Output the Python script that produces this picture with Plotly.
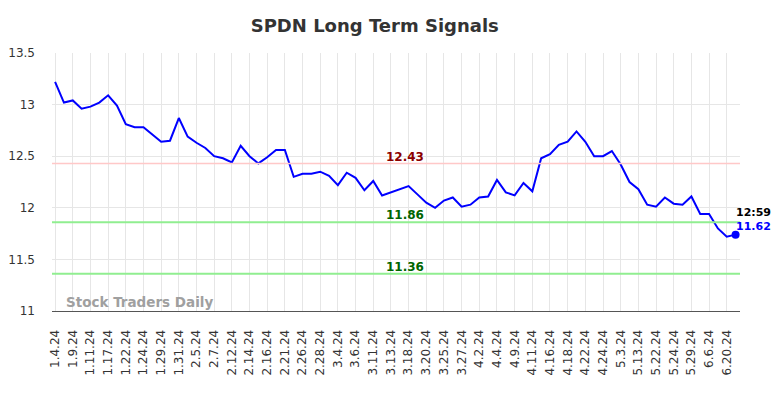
import plotly.graph_objects as go

tick_labels = ["1.4.24", "1.9.24", "1.11.24", "1.17.24", "1.22.24", "1.24.24", "1.29.24", "1.31.24",
               "2.5.24", "2.7.24", "2.12.24", "2.14.24", "2.16.24", "2.21.24", "2.26.24", "2.28.24",
               "3.4.24", "3.6.24", "3.11.24", "3.13.24", "3.18.24", "3.20.24", "3.25.24", "3.27.24",
               "4.2.24", "4.4.24", "4.9.24", "4.11.24", "4.16.24", "4.18.24", "4.22.24", "4.24.24",
               "5.3.24", "5.13.24", "5.22.24", "5.24.24", "5.29.24", "6.6.24", "6.20.24"]

prices = [13.22, 13.02, 13.04, 12.96, 12.98, 13.02, 13.09, 12.99, 12.81, 12.78,
          12.78, 12.71, 12.64, 12.65, 12.87, 12.69, 12.63, 12.58, 12.50, 12.48,
          12.44, 12.60, 12.50, 12.43, 12.49, 12.56, 12.56, 12.30, 12.33, 12.33,
          12.35, 12.31, 12.22, 12.34, 12.29, 12.17, 12.26, 12.12, 12.15, 12.18,
          12.21, 12.13, 12.05, 12.00, 12.07, 12.10, 12.01, 12.03, 12.10, 12.11,
          12.27, 12.15, 12.12, 12.24, 12.16, 12.48, 12.52, 12.61, 12.64, 12.74,
          12.64, 12.50, 12.50, 12.55, 12.42, 12.25, 12.18, 12.03, 12.01, 12.10,
          12.04, 12.03, 12.11, 11.94, 11.94, 11.80, 11.72, 11.74]

resistance = 12.43
supports = [11.86, 11.36]
last_time = "12:59"
last_price_label = "11.62"

x = list(range(len(prices)))
tickvals = list(range(0, 2 * len(tick_labels), 2))

fig = go.Figure()
fig.add_trace(go.Scatter(x=x, y=prices, mode="lines",
                         line=dict(color="#0000ff", width=2), hoverinfo="skip"))
fig.add_trace(go.Scatter(x=[x[-1]], y=[prices[-1]], mode="markers",
                         marker=dict(color="#0000ff", size=8), hoverinfo="skip"))

fig.add_hline(y=resistance, line=dict(color="#ffc8c8", width=1.5))
for s in supports:
    fig.add_hline(y=s, line=dict(color="#90ee90", width=2))

label_x = 39.6
fig.add_annotation(x=label_x, y=resistance, text=f"<b>{resistance:.2f}</b>", showarrow=False,
                   yanchor="bottom", yshift=-3, font=dict(color="#8b0000", size=12, family="DejaVu Sans"))
for s in supports:
    fig.add_annotation(x=label_x, y=s, text=f"<b>{s:.2f}</b>", showarrow=False,
                       yanchor="bottom", yshift=-2, font=dict(color="#006400", size=12, family="DejaVu Sans"))

fig.add_annotation(x=x[-1], y=prices[-1], text=f"<b>{last_time}</b>", showarrow=False,
                   xanchor="left", xshift=-2, yshift=22, font=dict(color="#000000", size=11, family="DejaVu Sans"))
fig.add_annotation(x=x[-1], y=prices[-1], text=f"<b>{last_price_label}</b>", showarrow=False,
                   xanchor="left", xshift=-2, yshift=8, font=dict(color="#0000ff", size=11, family="DejaVu Sans"))

fig.add_annotation(xref="paper", yref="paper", x=0.018, y=0.0, xanchor="left", yanchor="bottom",
                   yshift=-1, text="<b>Stock Traders Daily</b>", showarrow=False,
                   font=dict(color="#a0a0a0", size=13.5, family="DejaVu Sans"))

fig.update_layout(
    width=784, height=398,
    margin=dict(l=52, r=44, t=53, b=87, autoexpand=False),
    plot_bgcolor="white", paper_bgcolor="white",
    showlegend=False,
    title=dict(text="<b>SPDN Long Term Signals</b>", x=0.478, xref="container", xanchor="center",
               y=0.935, yref="container", yanchor="middle",
               font=dict(size=18, color="#333333", family="DejaVu Sans")),
    font=dict(family="DejaVu Sans", color="#333333"),
)
fig.update_xaxes(range=[-0.35, 77.5], tickmode="array", tickvals=tickvals, ticktext=tick_labels,
                 tickangle=-90, tickfont=dict(size=12, color="#333333"),
                 showgrid=True, gridcolor="#e6e6e6", gridwidth=1,
                 showline=True, linecolor="#555555", linewidth=1,
                 ticks="", ticklabelstandoff=13, zeroline=False, automargin=False)
fig.update_yaxes(range=[11, 13.5], tickmode="array", tickvals=[11, 11.5, 12, 12.5, 13, 13.5],
                 ticktext=["11", "11.5", "12", "12.5", "13", "13.5"],
                 tickfont=dict(size=12, color="#333333"),
                 showgrid=True, gridcolor="#e6e6e6", gridwidth=1,
                 ticks="", ticklabelstandoff=16, zeroline=False, showline=False, automargin=False)

fig.write_html("out.html", config={"displayModeBar": False},
               post_script="document.body.style.margin='0';document.body.style.overflow='hidden';")
